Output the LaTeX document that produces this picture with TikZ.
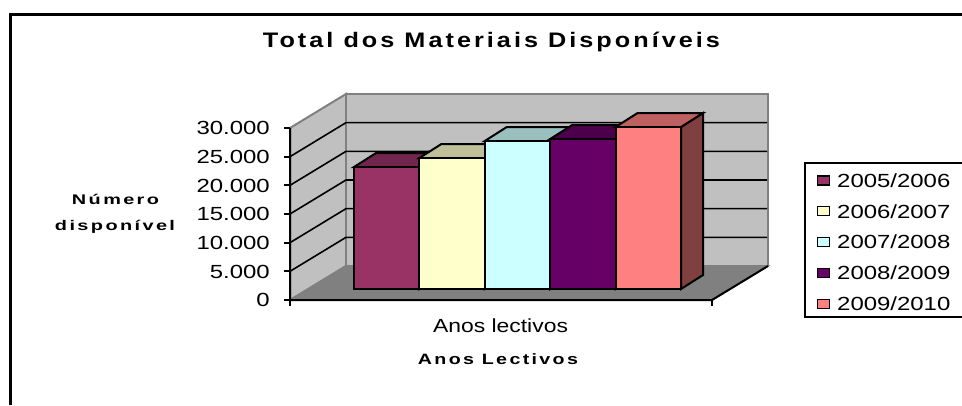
\documentclass[tikz,border=0pt]{standalone}
\usepackage{fontspec}
\usepackage{graphicx}
\setmainfont{Liberation Sans}
\newfontfamily\lsans{Liberation Sans}
\newfontfamily\lspaced[LetterSpace=12]{Liberation Sans}
\newcommand{\fitw}[2]{\resizebox{#1pt}{\height}{#2}}
\newcommand{\wide}[1]{\scalebox{1.26}[1]{#1}}
\definecolor{wallc}{HTML}{C0C0C0}
\definecolor{floorc}{HTML}{808080}
\definecolor{edgec}{HTML}{808080}
\definecolor{cA}{HTML}{993366}\definecolor{tA}{HTML}{73264D}\definecolor{sA}{HTML}{4D1A33}
\definecolor{cB}{HTML}{FFFFCC}\definecolor{tB}{HTML}{BFBF99}\definecolor{sB}{HTML}{808066}
\definecolor{cC}{HTML}{CCFFFF}\definecolor{tC}{HTML}{99BFBF}\definecolor{sC}{HTML}{668080}
\definecolor{cD}{HTML}{660066}\definecolor{tD}{HTML}{4C004C}\definecolor{sD}{HTML}{330033}
\definecolor{cE}{HTML}{FF8080}\definecolor{tE}{HTML}{BF6060}\definecolor{sE}{HTML}{804040}
\newcommand{\drawbar}[6]{%
  % #1 x0, #2 top y, #3 front, #4 top, #5 side, #6 name
  \filldraw[barline, fill=#5] ({#1+65.4},#2) -- ++(22,-14) -- ({#1+87.4},275) -- ({#1+65.4},289) -- cycle;
  \filldraw[barline, fill=#4] (#1,#2) -- ++(22,-14) -- ++(65.4,0) -- ({#1+65.4},#2) -- cycle;
  \filldraw[barline, fill=#3] (#1,#2) rectangle ({#1+65.4},289);
  \coordinate (#6) at ({#1+32.7},289);
}
\begin{document}
\begin{tikzpicture}[x=1pt,y=-1pt,
  wall/.style={fill=wallc, draw=edgec, line width=2pt, line join=miter},
  gridln/.style={draw=black, line width=1.6pt},
  axisln/.style={draw=black, line width=2pt},
  barline/.style={draw=black, line width=2pt, line join=miter},
  txt/.style={inner sep=0pt, text=black},
  legsq/.style={draw=black, line width=1.3pt}]
\useasboundingbox (0,0) rectangle (962,405);
\fill[white] (0,0) rectangle (962,405);
% outer frame
\draw[line width=3pt] (10,405) -- (10,14) -- (962,14);
% title
\node[txt, anchor=base] (title) at (491.5,47) {\fitw{457}{\fontsize{21}{23}\selectfont\lspaced\bfseries Total dos Materiais Disponíveis}};
% walls
\filldraw[wall] (290,128) -- (346,94) -- (346,266) -- (290,300) -- cycle;
\filldraw[wall] (346,94) rectangle (768,266);
% gridlines
\foreach \v in {1,...,5} {
  \pgfmathsetmacro\yy{300-\v*172/6}
  \draw[gridln] (290,\yy) -- (346,{\yy-34}) -- (767,{\yy-34});
}
% floor
\filldraw[fill=floorc, draw=edgec, line width=1.5pt] (290,300) -- (346,266) -- (768,266) -- (712,300) -- cycle;
% axes
\draw[axisln] (290,128) -- (290,300) -- (712,300) -- (768,266);
\foreach \v/\lab in {0/0,1/5.000,2/10.000,3/15.000,4/20.000,5/25.000,6/30.000} {
  \pgfmathsetmacro\yy{300-\v*172/6}
  \draw[axisln] (284,\yy) -- (290,\yy);
  \node[txt, anchor=base east] (ylab\v) at (270,{\yy+6.8}) {\wide{\fontsize{19}{20}\selectfont\lsans \lab}};
}
\draw[axisln] (290,300) -- (290,306);
\draw[axisln] (712,300) -- (712,306);
% bars
\drawbar{354}{167}{cA}{tA}{sA}{barA}
\drawbar{419.4}{158}{cB}{tB}{sB}{barB}
\drawbar{484.8}{141}{cC}{tC}{sC}{barC}
\drawbar{550.2}{139}{cD}{tD}{sD}{barD}
\drawbar{615.6}{127}{cE}{tE}{sE}{barE}
% axis titles
\node[txt, anchor=base] (xcat) at (500.5,332) {\fitw{135}{\fontsize{19}{20}\selectfont\lsans Anos lectivos}};
\node[txt, anchor=base] (xtitle) at (498,364) {\fitw{160}{\fontsize{15}{17}\selectfont\lspaced\bfseries Anos Lectivos}};
\node[txt, anchor=base] (ytitle1) at (115.5,204) {\fitw{87}{\fontsize{14}{16}\selectfont\lspaced\bfseries Número}};
\node[txt, anchor=base] (ytitle2) at (115,230) {\fitw{120}{\fontsize{14}{16}\selectfont\lspaced\bfseries disponível}};
% legend
\draw[line width=2pt] (962,163) -- (805,163) -- (805,317) -- (962,317);
\foreach \i/\c/\lab in {0/cA/2005\slash 2006,1/cB/2006\slash 2007,2/cC/2007\slash 2008,3/cD/2008\slash 2009,4/cE/2009\slash 2010} {
  \pgfmathsetmacro\yy{180.5+\i*30.8}
  \filldraw[legsq, fill=\c] (817.5,{\yy-4.5}) rectangle (829.5,{\yy+4.5});
  \node[txt, anchor=base west] (leg\i) at (837,{\yy+6.8}) {\wide{\fontsize{19}{20}\selectfont\lsans \lab}};
}
\end{tikzpicture}
\end{document}
